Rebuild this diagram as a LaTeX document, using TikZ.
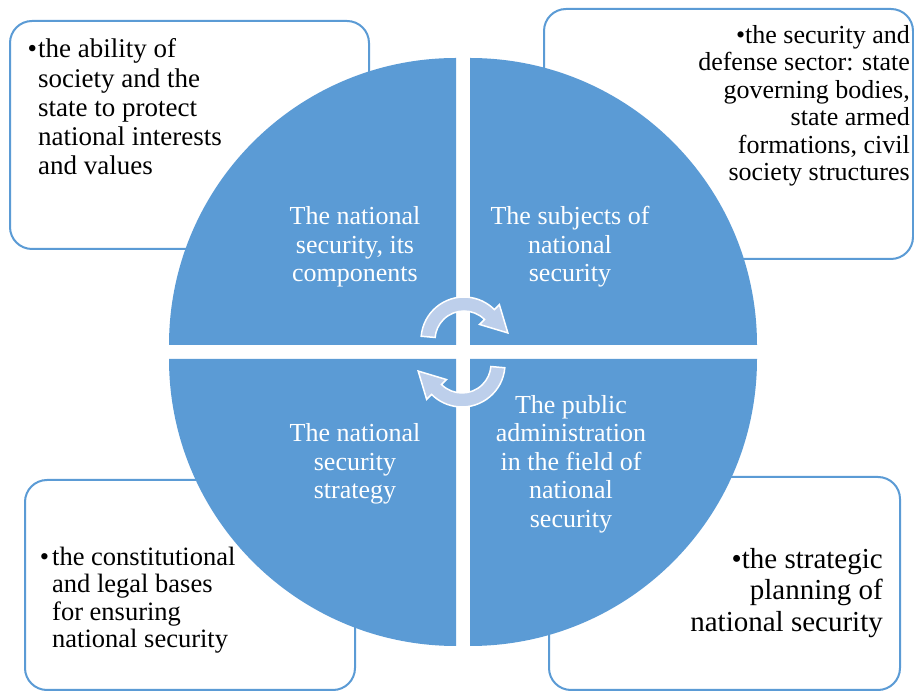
\documentclass[tikz,border=0pt]{standalone}
\usepackage{fontspec}
\setmainfont{Liberation Serif}
\usetikzlibrary{calc}

\definecolor{quadblue}{RGB}{91,155,213}
\definecolor{arrowblue}{RGB}{189,207,235}

\begin{document}
\begin{tikzpicture}[
    x=1pt, y=1pt,
    infobox/.style={rectangle, draw=quadblue, line width=2pt, rounded corners=22pt, fill=white, inner sep=0pt},
    quadrant/.style={fill=quadblue},
    cycarrow/.style={fill=arrowblue, draw=white, line width=1.5pt, line join=miter},
    quadtext/.style={text=white, align=center, inner sep=0pt, font=\fontsize{26}{28.5}\selectfont},
    boxtext/.style={text=black, inner sep=0pt}
]
\useasboundingbox (0,0) rectangle (914,691);

% Outer boxes
\node[infobox, minimum width=359, minimum height=228] (abilitybox) at (189.5,556) {};
\node[infobox, minimum width=369, minimum height=250] (sectorbox) at (728.5,557) {};
\node[infobox, minimum width=330, minimum height=210] (legalbox) at (190,106) {};
\node[infobox, minimum width=351, minimum height=213] (planningbox) at (724.5,107.5) {};

% Circle split into four quadrants
\coordinate (hub) at (463,339);
\foreach \ang/\dx/\dy in {0/7/7, 90/-7/7, 180/-7/-7, 270/7/-7}
    \fill[quadrant] ($(hub)+(\dx,\dy)$) -- ++(\ang:287) arc[start angle=\ang, delta angle=90, radius=287] -- cycle;

% Circular arrows
\foreach \cx/\cy/\off in {464/351/0, 462/327/180}
    \filldraw[cycarrow] ($(\cx,\cy)+(175+\off:43)$) arc[start angle=175+\off, end angle=45+\off, radius=43]
        -- ($(\cx,\cy)+(45+\off:50)$)
        -- ($(\cx,\cy)+(45+\off:36)+(-45+\off:26)$)
        -- ($(\cx,\cy)+(45+\off:22)$)
        -- ($(\cx,\cy)+(45+\off:29)$) arc[start angle=45+\off, end angle=175+\off, radius=29] -- cycle;

% Quadrant labels
\node[quadtext] (components) at (355,444) {The national\\security, its\\components};
\node[quadtext] (subjects) at (570,444) {The subjects of\\national\\security};
\node[quadtext] (strategy) at (355,227) {The national\\security\\strategy};
\node[quadtext] (publicadmin) at (571,227) {The public\\administration\\in the field of\\national\\security};

% Box texts
\node[boxtext, anchor=west, align=left, font=\fontsize{27}{29.3}\selectfont] (abilitytext) at (38,584)
    {\llap{\textbullet\hspace{1pt}}the ability of\\society and the\\state to protect\\national interests\\and values};
\node[boxtext, anchor=east, align=right, font=\fontsize{26}{27.5}\selectfont] (sectortext) at (910,585)
    {\textbullet{}the security and\\defense sector: state\\governing bodies,\\state armed\\formations, civil\\society structures};
\node[boxtext, anchor=west, align=left, font=\fontsize{26.5}{27.5}\selectfont] (legaltext) at (52,91)
    {\llap{\textbullet\hspace{3pt}}the constitutional\\and legal bases\\for ensuring\\national security};
\node[boxtext, anchor=east, align=right, font=\fontsize{29}{31.5}\selectfont] (planningtext) at (883,98)
    {\textbullet{}the strategic\\planning of\\national security};

\end{tikzpicture}
\end{document}
